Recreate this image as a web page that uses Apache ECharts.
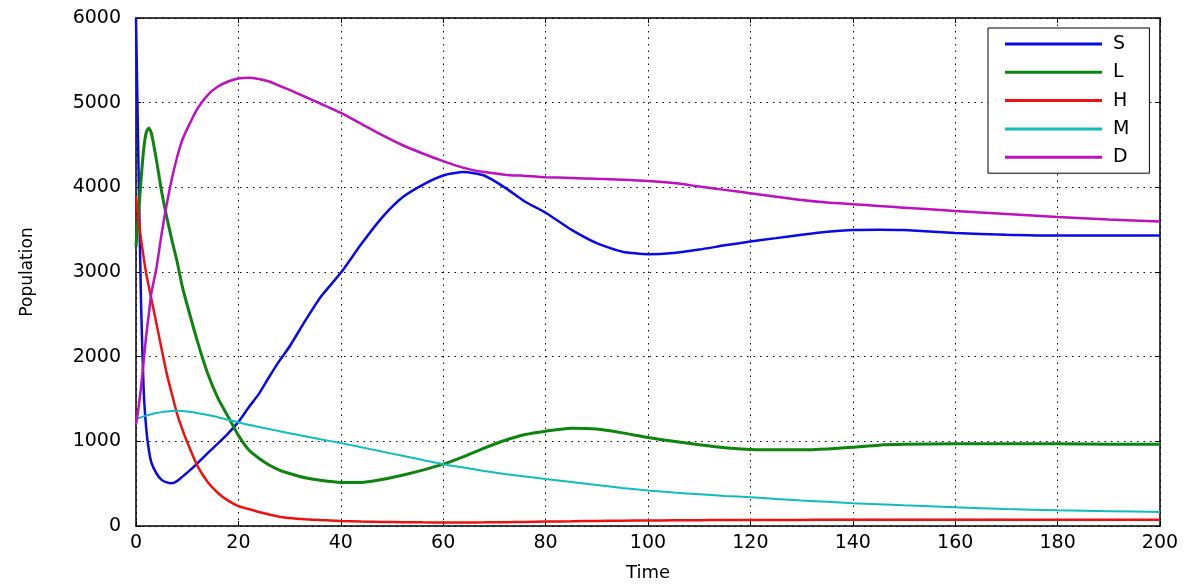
<!DOCTYPE html>
<html>
<head>
<meta charset="utf-8">
<script src="https://cdn.jsdelivr.net/npm/echarts@6/dist/echarts.min.js"></script>
<style>html,body{margin:0;padding:0;background:#fff;}#c{width:1200px;height:587px;}</style>
</head>
<body>
<div id="c"></div>
<script>
const time = [0,0.5,1,1.5,2,2.5,3,4,5,6,7,8,9,10,12,14,16,18,20,22,24,26,28,30,33,36,40,44,48,52,56,60,64,68,72,76,80,85,90,95,100,105,110,115,120,125,130,135,140,145,150,160,170,180,190,200];
const S = [6000,4200,2600,1600,1150,900,750,620,545,515,505,530,580,630,740,860,975,1095,1230,1400,1560,1760,1950,2120,2420,2700,2990,3330,3640,3880,4030,4140,4180,4140,4000,3830,3700,3500,3340,3240,3210,3225,3265,3315,3360,3400,3440,3475,3495,3500,3495,3460,3440,3430,3430,3430];
const L = [3300,3700,4100,4450,4650,4700,4640,4320,3950,3650,3380,3130,2840,2610,2180,1800,1510,1290,1070,900,800,720,660,620,570,540,515,515,550,600,660,730,820,920,1010,1080,1120,1155,1145,1100,1045,1000,960,925,905,900,900,910,930,955,965,970,970,970,965,965];
const H = [3900,3620,3380,3170,2980,2830,2680,2390,2090,1800,1560,1330,1150,990,710,520,390,300,235,200,165,135,110,95,80,70,60,52,48,45,43,42,42,43,45,48,52,56,60,63,65,67,69,70,71,72,72,73,73,74,74,74,75,75,75,75];
const M = [1260,1275,1285,1295,1305,1312,1320,1335,1345,1352,1358,1360,1358,1352,1335,1310,1285,1255,1225,1195,1170,1145,1120,1095,1060,1025,980,930,880,830,780,730,690,650,615,585,555,520,485,450,420,395,375,355,340,320,300,285,270,258,245,220,200,185,175,165];
const D = [1200,1400,1650,1950,2250,2500,2750,3050,3450,3800,4100,4350,4550,4690,4930,5090,5190,5250,5285,5295,5280,5250,5200,5150,5070,4990,4880,4750,4620,4500,4400,4310,4230,4180,4150,4135,4120,4110,4100,4090,4075,4050,4010,3970,3930,3890,3850,3820,3800,3780,3760,3720,3685,3650,3620,3595];
const xTicks = [0,20,40,60,80,100,120,140,160,180,200];
const yTicks = [0,1000,2000,3000,4000,5000,6000];

const names = ['S','L','H','M','D'];
const vals = [S,L,H,M,D];
const colors = ['#0a0ae6','#0d840d','#f01010','#10bcbc','#bf10bf'];
const widths = [2.5,3,2.5,2,2.5];

const font = 'DejaVu Sans';
const chart = echarts.init(document.getElementById('c'), null, {renderer:'canvas'});
const tickCommon = {show:true, inside:true, length:5, lineStyle:{color:'#000', width:1}};
const splitDotted = {show:true, lineStyle:{color:'#000', width:1, type:[1.5,5]}};
chart.setOption({
  animation:false,
  backgroundColor:'#fff',
  grid:{left:136, right:40, top:18, bottom:56, containLabel:false},
  legend:{
    orient:'vertical', left:988, top:28,
    padding:[6,20,6,17], itemGap:8.3,
    itemWidth:97, itemHeight:3, icon:'rect',
    borderColor:'#000', borderWidth:1, backgroundColor:'#fff',
    textStyle:{fontFamily:font, fontSize:19, color:'#000', lineHeight:20, padding:[0,0,0,6]},
    data:names
  },
  xAxis:[{
    type:'value', min:xTicks[0], max:xTicks[xTicks.length-1], interval:20,
    name:'Time', nameLocation:'middle', nameGap:38,
    nameTextStyle:{fontFamily:font, fontSize:18, color:'#000'},
    axisLine:{show:true, onZero:false, lineStyle:{color:'#000', width:1.5}},
    axisTick:tickCommon,
    axisLabel:{fontFamily:font, fontSize:19, color:'#000', margin:8, formatter:v=>String(v)},
    splitLine:splitDotted
  },{
    type:'value', position:'top', min:0, max:200, interval:20,
    axisLine:{show:true, onZero:false, lineStyle:{color:'#000', width:1.5}},
    axisTick:tickCommon, axisLabel:{show:false}, splitLine:{show:false}
  }],
  yAxis:[{
    type:'value', min:yTicks[0], max:yTicks[yTicks.length-1], interval:1000,
    name:'Population', nameLocation:'middle', nameGap:100,
    nameTextStyle:{fontFamily:font, fontSize:17, color:'#000'},
    axisLine:{show:true, onZero:false, lineStyle:{color:'#000', width:1.5}},
    axisTick:tickCommon,
    axisLabel:{fontFamily:font, fontSize:19, color:'#000', margin:15, formatter:v=>String(v)},
    splitLine:splitDotted
  },{
    type:'value', position:'right', min:0, max:6000, interval:1000,
    axisLine:{show:true, onZero:false, lineStyle:{color:'#000', width:1.5}},
    axisTick:tickCommon, axisLabel:{show:false}, splitLine:{show:false}
  }],
  series: names.map((n,i)=>({
    name:n, type:'line', xAxisIndex:0, yAxisIndex:0,
    data: time.map((t,k)=>[t, vals[i][k]]),
    showSymbol:false, symbol:'none',
    lineStyle:{color:colors[i], width:widths[i]},
    itemStyle:{color:colors[i]},
    smooth:0.2, clip:true
  }))
});
</script>
</body>
</html>
